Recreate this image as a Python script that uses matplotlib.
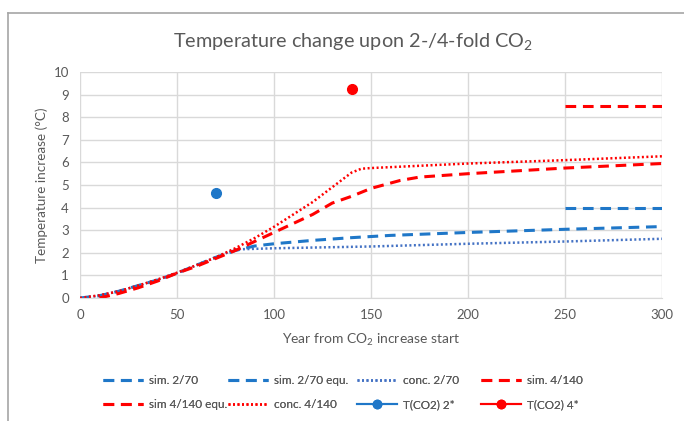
import matplotlib
matplotlib.use("Agg")
import matplotlib.pyplot as plt
from matplotlib.lines import Line2D

plt.rcParams['font.family'] = ['Lato', 'DejaVu Sans']
plt.rcParams['mathtext.default'] = 'regular'

# data
years_sim2 = [0, 10, 20, 30, 40, 50, 60, 70, 80, 90, 100, 120, 140, 160, 200, 250, 300]
sim2 = [0, 0.1, 0.3, 0.55, 0.8, 1.1, 1.45, 1.8, 2.1, 2.3, 2.4, 2.55, 2.67, 2.77, 2.9, 3.04, 3.16]

years_conc2 = [0, 10, 20, 30, 40, 50, 60, 70, 80, 100, 150, 200, 250, 300]
conc2 = [0, 0.1, 0.3, 0.55, 0.8, 1.1, 1.45, 1.8, 2.15, 2.2, 2.28, 2.4, 2.5, 2.62]

years_sim4 = [10, 20, 30, 40, 50, 60, 70, 80, 90, 100, 110, 120, 130, 140, 150, 165, 175, 200, 250, 300]
sim4 = [0, 0.2, 0.45, 0.75, 1.1, 1.4, 1.75, 2.1, 2.5, 2.9, 3.3, 3.7, 4.2, 4.5, 4.85, 5.2, 5.35, 5.5, 5.75, 5.95]

years_conc4 = [0, 10, 20, 30, 40, 50, 60, 70, 80, 90, 100, 110, 120, 130, 140, 145, 150, 175, 200, 250, 300]
conc4 = [0, 0.12, 0.3, 0.55, 0.82, 1.12, 1.45, 1.8, 2.2, 2.65, 3.15, 3.7, 4.25, 4.9, 5.55, 5.72, 5.75, 5.85, 5.95, 6.1, 6.27]

years_equ = [250, 300]
sim2_equ = [4.0, 4.0]
sim4_equ = [8.5, 8.5]

t2_year, t2_val = [70], [4.65]
t4_year, t4_val = [140], [9.25]

blue = '#1F77C8'
blue_dot = '#4472C4'
red = '#FF0000'
gray_txt = '#595959'
grid_c = '#D9D9D9'

fig = plt.figure(figsize=(6.84, 4.21), dpi=100)
ax = fig.add_axes([80 / 684, 1 - 298 / 421, 582 / 684, 226 / 421])

dash = (0, (3.5, 2.2))
dot = (0, (0.8, 1.0))

h1, = ax.plot(years_sim2, sim2, color=blue, lw=2.2, linestyle=dash)
h2, = ax.plot(years_equ, sim2_equ, color=blue, lw=2.2, linestyle=dash)
h3, = ax.plot(years_conc2, conc2, color=blue_dot, lw=1.8, linestyle=dot)
h4, = ax.plot(years_sim4, sim4, color=red, lw=2.2, linestyle=dash)
h5, = ax.plot(years_equ, sim4_equ, color=red, lw=2.2, linestyle=dash)
h6, = ax.plot(years_conc4, conc4, color=red, lw=1.8, linestyle=dot)
ax.plot(t2_year, t2_val, 'o', color=blue, ms=7)
ax.plot(t4_year, t4_val, 'o', color=red, ms=7)

ax.set_xlim(0, 300)
ax.set_ylim(0, 10)
ax.set_xticks(range(0, 301, 50))
ax.set_yticks(range(0, 11))
ax.grid(True, color=grid_c, lw=1)
ax.set_axisbelow(True)
for s in ['top', 'right', 'left']:
    ax.spines[s].set_visible(False)
ax.spines['bottom'].set_color(grid_c)
ax.tick_params(length=0, colors=gray_txt, labelsize=9.5, pad=8)

fig.text(353 / 684, 1 - 42 / 421, 'Temperature change upon 2-/4-fold CO$_2$',
         fontsize=14.3, color=gray_txt, ha='center', va='center')
ax.set_xlabel('Year from CO$_2$ increase start', fontsize=10, color=gray_txt, labelpad=8)
ax.set_ylabel('Temperature increase (°C)', fontsize=9.7, color=gray_txt, labelpad=4)

# legend: 4 fixed-width columns, 2 rows (Excel style)
lh7 = Line2D([], [], color=blue, lw=1.5, marker='o', ms=6)
lh8 = Line2D([], [], color=red, lw=1.5, marker='o', ms=6)
columns = [
    ([h1, h5], ['sim. 2/70', 'sim 4/140 equ.']),
    ([h2, h6], ['sim. 2/70 equ.', 'conc. 4/140']),
    ([h3, lh7], ['conc. 2/70', 'T(CO2) 2*']),
    ([h4, lh8], ['sim. 4/140', 'T(CO2) 4*']),
]
col_x = [103, 228, 357, 481]
for x, (hs, ls) in zip(col_x, columns):
    leg = fig.legend(hs, ls, loc='upper left', bbox_to_anchor=(x / 684, 1 - 375 / 421),
                     frameon=False, fontsize=8.5, labelcolor=gray_txt, handlelength=3.4,
                     handletextpad=0.5, labelspacing=1.12, borderpad=0, borderaxespad=0)
    fig.add_artist(leg)

# chart frame (partly cropped in the reference)
fig.add_artist(Line2D([8 / 684, 8 / 684], [0, 1 - 13 / 421], color='#A6A6A6', lw=1.2))
fig.add_artist(Line2D([8 / 684, 1], [1 - 13 / 421, 1 - 13 / 421], color='#A6A6A6', lw=1.2))

fig.savefig('out.png', dpi=100)
